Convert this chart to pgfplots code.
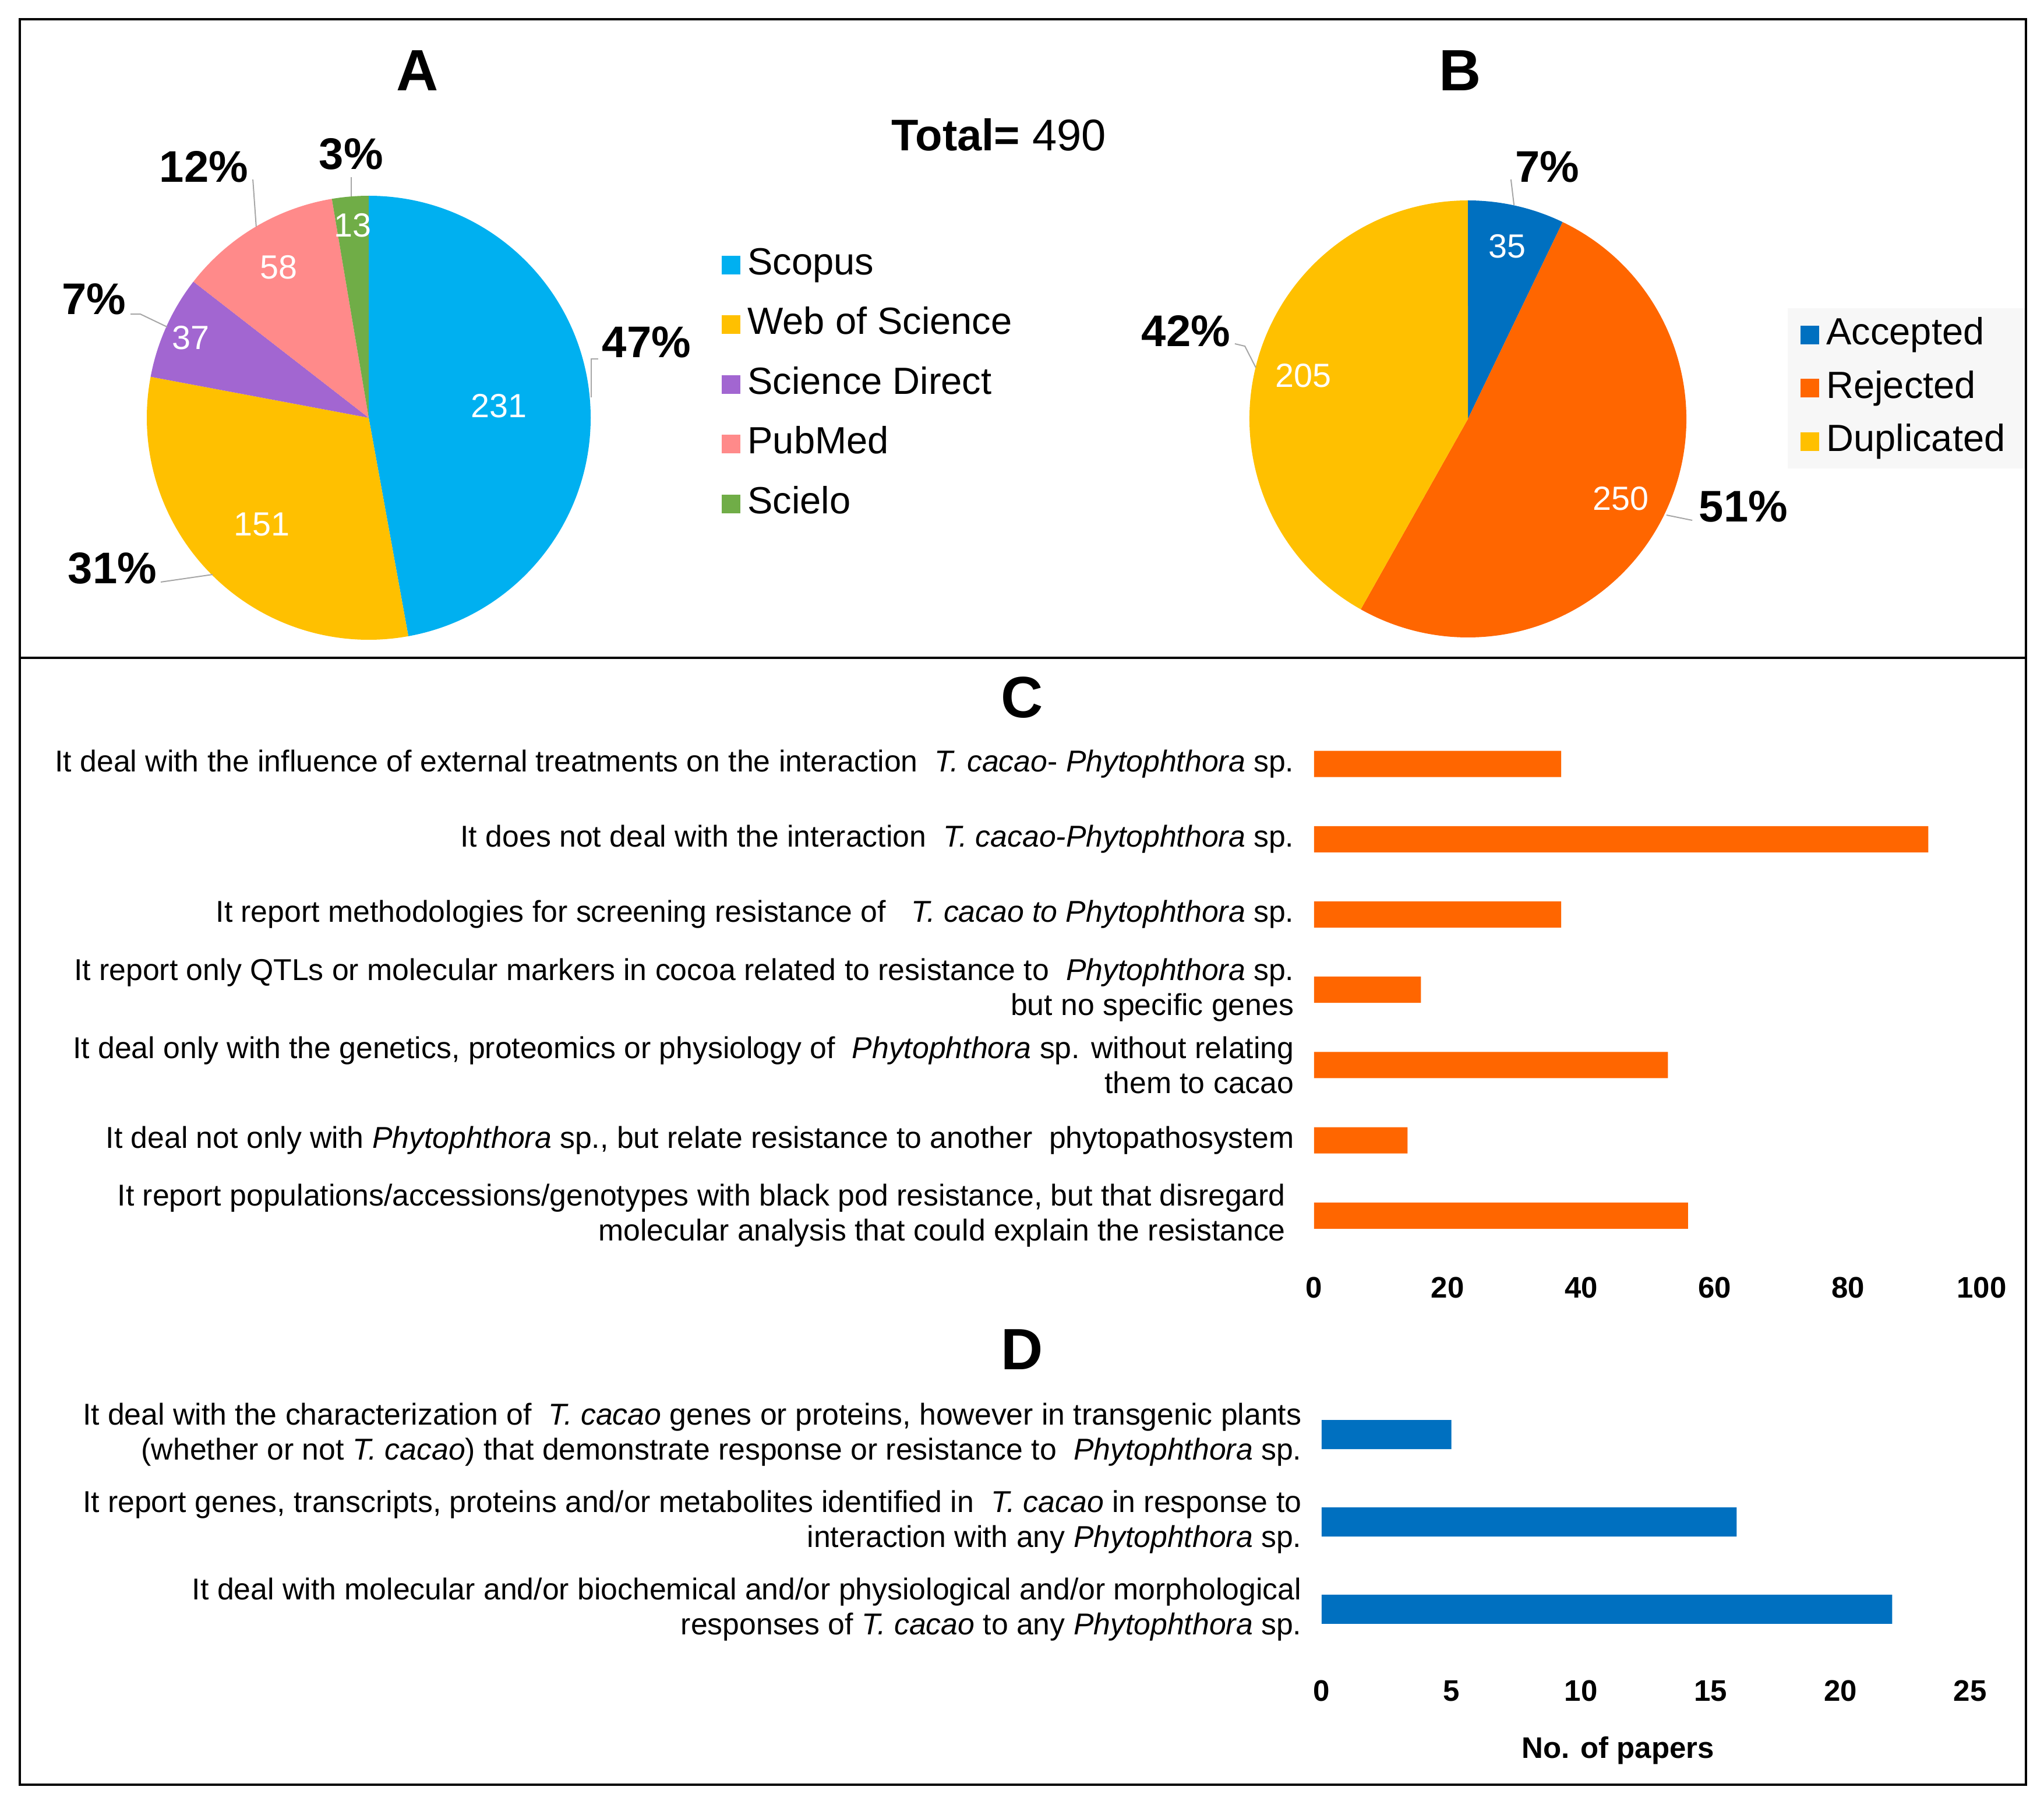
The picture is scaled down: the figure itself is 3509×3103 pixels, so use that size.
\documentclass[border=0pt]{standalone}
\usepackage{pgfplots}
\pgfplotsset{compat=1.18}
\usepackage{pgfplotstable}
\usepackage{fontspec}
\setmainfont{Liberation Sans}

\definecolor{pieA0}{HTML}{00B0F0}
\definecolor{pieA1}{HTML}{FFC000}
\definecolor{pieA2}{HTML}{A266D1}
\definecolor{pieA3}{HTML}{FF8A8A}
\definecolor{pieA4}{HTML}{70AD47}
\definecolor{pieB0}{HTML}{0070C0}
\definecolor{pieB1}{HTML}{FF6600}
\definecolor{pieB2}{HTML}{FFC000}
\definecolor{legbg}{HTML}{F7F7F7}

% A: papers per database (count, label radius)
\pgfplotstableread{
count labr
231 0.59
151 0.68
37 0.88
58 0.79
13 0.87
}\sourcesA

% B: screening result
\pgfplotstableread{
count labr
35 0.81
250 0.79
205 0.78
}\statusB

% C: reasons for rejection
\pgfplotstableread{
n cat
37 0
92 1
37 2
16 3
53 4
14 5
56 6
}\rejected

% D: accepted papers
\pgfplotstableread{
n cat
5 0
16 1
22 2
}\accepted

\tikzset{
  pielabel/.style={text=white, font=\fontsize{11.5}{13}\selectfont},
  pct/.style={font=\bfseries\fontsize{15.2}{18}\selectfont},
  lead/.style={draw=gray!70, line width=0.4pt},
  panel/.style={font=\bfseries\fontsize{20}{24}\selectfont},
}

% wedges clockwise from 12 o'clock, then the counts inside
\newcommand\drawpie[3]{%
  \pgfplotstablegetrowsof{#1}%
  \pgfmathtruncatemacro\pielast{\pgfplotsretval-1}%
  \def\pietotal{0}%
  \pgfplotsforeachungrouped \i in {0,...,\pielast}{%
    \pgfplotstablegetelem{\i}{count}\of{#1}%
    \pgfmathsetmacro\pietotal{\pietotal+\pgfplotsretval}%
  }%
  \def\pieangle{90}%
  \pgfplotsforeachungrouped \i in {0,...,\pielast}{%
    \pgfplotstablegetelem{\i}{count}\of{#1}\let\piecount\pgfplotsretval
    \pgfmathsetmacro\piefrac{\piecount/\pietotal}%
    \pgfmathsetmacro\pieend{\pieangle-360*\piefrac}%
    \edef\temp{\noexpand\fill[#2\i] (axis cs:0,0) -- (axis cs:{cos(\pieangle)},{sin(\pieangle)})
        arc[start angle=\pieangle, end angle=\pieend, radius=#3] -- cycle;}%
    \temp
    \let\pieangle\pieend
  }%
  \def\pieangle{90}%
  \pgfplotsforeachungrouped \i in {0,...,\pielast}{%
    \pgfplotstablegetelem{\i}{count}\of{#1}\let\piecount\pgfplotsretval
    \pgfplotstablegetelem{\i}{labr}\of{#1}\let\pielabr\pgfplotsretval
    \pgfmathsetmacro\piefrac{\piecount/\pietotal}%
    \pgfmathsetmacro\pieend{\pieangle-360*\piefrac}%
    \pgfmathsetmacro\piemid{(\pieangle+\pieend)/2}%
    \edef\temp{\noexpand\node[pielabel] at (axis cs:{\pielabr*cos(\piemid)},{\pielabr*sin(\piemid)}) {\piecount};}%
    \temp
    \let\pieangle\pieend
  }%
}

\pgfplotsset{
  pieaxis/.style={
    hide axis, clip=false, scale only axis,
    xmin=-1, xmax=1, ymin=-1, ymax=1,
    anchor=center,
    legend cell align=left,
    legend image code/.code={\fill[##1] (0pt,-3pt) rectangle (6pt,3pt);},
  },
  barsaxis/.style={
    xbar, scale only axis, anchor=north west,
    enlargelimits=false,
    y dir=reverse,
    axis lines=left,
    axis line style={draw=none},
    tick style={draw=none},
    /pgf/number format/assume math mode=true,
    xticklabel style={font=\bfseries\fontsize{10.2}{12}\selectfont},
    yticklabel style={font=\fontsize{10.35}{12}\selectfont, align=right, inner sep=0pt, xshift=-4.6pt},
  },
}

\begin{document}
\begin{tikzpicture}[x=0.2pt, y=-0.2pt]
\path (0,0) rectangle (3509,3103);
\coordinate (cA) at (633,717);
\coordinate (cB) at (2520,719);
\coordinate (cC) at (2256,1246.4);
\coordinate (cD) at (2269,2387);

% ---------- A ----------
\begin{axis}[pieaxis, at={(cA)}, width=152.4pt, height=152.4pt,
  legend style={at={(axis description cs:1.294,0.886)}, anchor=north west,
    draw=none, fill=none, inner sep=0pt, row sep=8.2pt,
    font=\fontsize{13}{15.6}\selectfont,
    nodes={inner xsep=2.5pt, inner ysep=0pt, text height=9.5pt, text depth=2.8pt}}]
\drawpie{\sourcesA}{pieA}{76.2pt}
\addlegendimage{pieA0}\addlegendentry{Scopus}
\addlegendimage{pieA1}\addlegendentry{Web of Science}
\addlegendimage{pieA2}\addlegendentry{Science Direct}
\addlegendimage{pieA3}\addlegendentry{PubMed}
\addlegendimage{pieA4}\addlegendentry{Scielo}
\node[pct] at (axis cs:1.252,0.341) {47\%};
\node[pct] at (axis cs:-1.155,-0.677) {31\%};
\node[pct] at (axis cs:-1.239,0.535) {7\%};
\node[pct] at (axis cs:-0.743,1.131) {12\%};
\node[pct] at (axis cs:-0.079,1.189) {3\%};
\draw[lead] (axis cs:1.003,0.092) -- (axis cs:1.003,0.265) -- (axis cs:1.034,0.265);
\draw[lead] (axis cs:-0.937,-0.740) -- (axis cs:-0.703,-0.706);
\draw[lead] (axis cs:-1.073,0.467) -- (axis cs:-1.029,0.467) -- (axis cs:-0.908,0.409);
\draw[lead] (axis cs:-0.522,1.073) -- (axis cs:-0.507,0.861);
\draw[lead] (axis cs:-0.079,1.084) -- (axis cs:-0.079,0.997);
\end{axis}

% ---------- B ----------
\begin{axis}[pieaxis, at={(cB)}, width=150pt, height=150pt,
  legend style={at={(axis description cs:1.2305,0.7545)}, anchor=north west,
    draw=none, fill=legbg, inner xsep=4.4pt, inner ysep=3pt, row sep=6pt,
    font=\fontsize{13}{15.6}\selectfont,
    nodes={inner xsep=2.5pt, inner ysep=0pt, text height=9.5pt, text depth=2.8pt}}]
\drawpie{\statusB}{pieB}{75pt}
\addlegendimage{pieB0}\addlegendentry{Accepted}
\addlegendimage{pieB1}\addlegendentry{Rejected}
\addlegendimage{pieB2}\addlegendentry{Duplicated}
\node[pct] at (axis cs:0.363,1.155) {7\%};
\node[pct] at (axis cs:-1.291,0.403) {42\%};
\node[pct] at (axis cs:1.261,-0.400) {51\%};
\draw[lead] (axis cs:0.197,1.096) -- (axis cs:0.211,0.979);
\draw[lead] (axis cs:-1.067,0.344) -- (axis cs:-1.021,0.333) -- (axis cs:-0.971,0.235);
\draw[lead] (axis cs:0.909,-0.440) -- (axis cs:1.027,-0.464);
\end{axis}

% ---------- C ----------
\begin{axis}[barsaxis, at={(cC)}, width=229.2pt, height=186.1pt,
  bar width=9pt,
  xmin=0, xmax=100, xtick={0,20,...,100},
  xticklabel style={yshift=2.6pt},
  ymin=-0.5, ymax=6.7, ytick={0,...,6},
  yticklabels={
    {It deal with the influence of external treatments on the interaction \ \textit{T. cacao}- \textit{Phytophthora} sp.},
    {It does not deal with the interaction \ \textit{T. cacao-Phytophthora} sp.},
    {It report methodologies for screening resistance of \ \ \textit{T. cacao to Phytophthora} sp.},
    {It report only QTLs or molecular markers in cocoa related to resistance to \ \textit{Phytophthora} sp.\\but no specific genes},
    {It deal only with the genetics, proteomics or physiology of \ \textit{Phytophthora} sp. without relating\\them to cacao},
    {It deal not only with \textit{Phytophthora} sp., but relate resistance to another \ phytopathosystem},
    {It report populations/accessions/genotypes with black pod resistance, but that disregard\ \ \\molecular analysis that could explain the resistance\ \ }}]
\addplot[fill=pieB1, draw=none] table[x=n, y=cat] {\rejected};
\end{axis}

% ---------- D ----------
\begin{axis}[barsaxis, at={(cD)}, width=222.6pt, height=95.6pt,
  bar width=10pt,
  xmin=0, xmax=25, xtick={0,5,...,25},
  xticklabel style={yshift=1.8pt},
  ymin=-0.5, ymax=2.687, ytick={0,1,2},
  xlabel={No. of papers},
  xlabel style={at={(axis description cs:0.457,-0.292)}, anchor=center,
    font=\bfseries\fontsize{10.2}{12}\selectfont},
  yticklabels={
    {It deal with the characterization of \ \textit{T. cacao} genes or proteins, however in transgenic plants\\(whether or not \textit{T. cacao}) that demonstrate response or resistance to \ \textit{Phytophthora} sp.},
    {It report genes, transcripts, proteins and/or metabolites identified in \ \textit{T. cacao} in response to\\interaction with any \textit{Phytophthora} sp.},
    {It deal with molecular and/or biochemical and/or physiological and/or morphological\ \\responses of \textit{T. cacao} to any \textit{Phytophthora} sp.}}]
\addplot[fill=pieB0, draw=none] table[x=n, y=cat] {\accepted};
\end{axis}

% titles and frame
\node[panel] at (717,121) {A};
\node[panel] at (2507,121) {B};
\node[panel] at (1755,1197) {C};
\node[panel] at (1755,2316) {D};
\node[font=\fontsize{15.2}{18}\selectfont] at (1715,231) {\textbf{Total=} 490};
\draw[line width=0.7pt] (34,33) rectangle (3478,3063);
\draw[line width=0.7pt] (34,1129) -- (3478,1129);
\end{tikzpicture}
\end{document}
